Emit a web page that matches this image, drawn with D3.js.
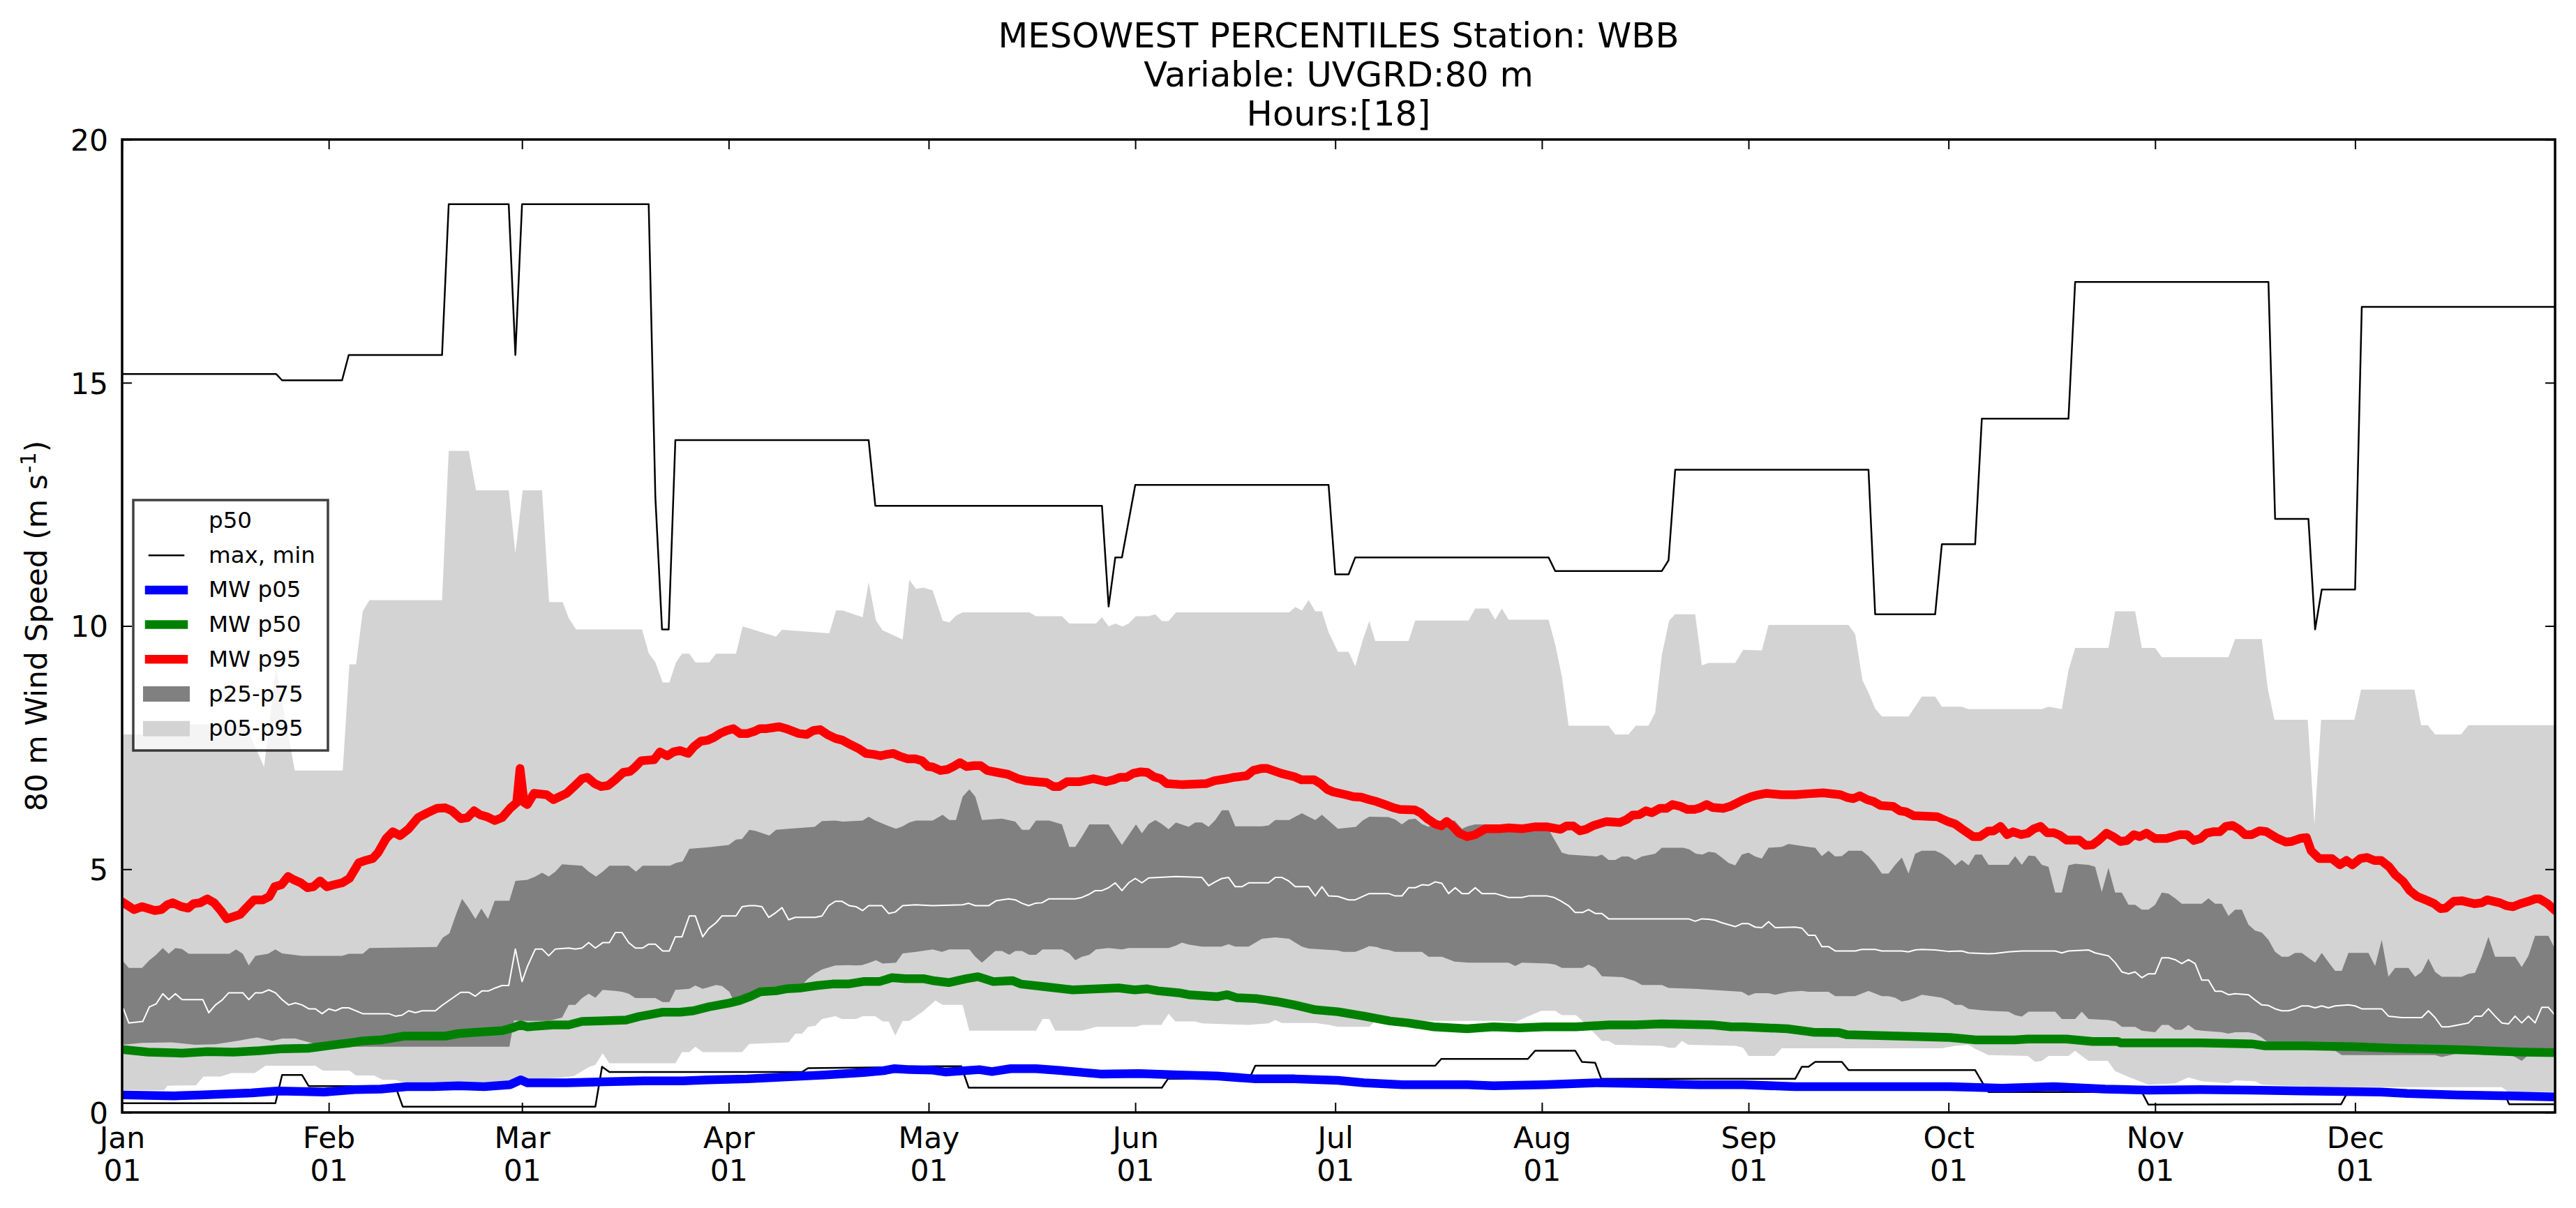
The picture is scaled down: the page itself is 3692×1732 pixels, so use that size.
<!DOCTYPE html>
<html>
<head>
<meta charset="utf-8">
<script src="https://cdn.jsdelivr.net/npm/d3@7"></script>
<style>
body { margin: 0; background: #fff; }
svg { display: block; }
text { font-family: "DejaVu Sans", sans-serif; fill: #000; }
</style>
</head>
<body>
<svg id="chart"></svg>
<script>
// every series is a list of [day of year (0 = Jan 01, leap year), value in m/s]
const p95Upper = [[0,7.77],[7.5,7.77],[8,7.98],[18.5,7.98],[21.3,7.1],[23.1,9.15],[25.9,7.03],[33.1,7.03],[34.1,9.21],[35.1,9.21],[36.1,10.3],[37.1,10.53],[48,10.53],[49,13.6],[52,13.6],[53.1,12.79],[58,12.79],[59,11.49],[60.1,12.79],[63,12.79],[64.06,10.49],[66.1,10.49],[67,10.16],[68.1,9.93],[78,9.93],[79,9.44],[80,9.25],[81.1,8.84],[82.1,8.84],[83.1,9.25],[84,9.43],[85.1,9.43],[86,9.25],[88.1,9.25],[89.1,9.43],[92.1,9.43],[93.1,9.99],[94.1,9.95],[98.1,9.78],[99,9.92],[106.1,9.85],[107.1,10.32],[108.1,10.32],[111.1,10.18],[112,10.9],[113.1,10.11],[114.1,9.91],[117.1,9.72],[118.1,10.95],[119.1,10.76],[120.2,10.79],[121.6,10.73],[123.1,10.11],[124.1,10.07],[125.1,10.21],[126.1,10.28],[136.1,10.28],[137.1,10.2],[141,10.2],[142.1,10.05],[146.1,10.05],[147,10.18],[148,9.99],[149,10.05],[150.1,9.99],[151,10.05],[152.1,10.2],[154,10.2],[155,10.24],[156,10.1],[157,10.1],[158.1,10.28],[175.1,10.28],[176,10.39],[177,10.32],[178,10.53],[179,10.3],[180,10.3],[181,9.87],[182.4,9.47],[184,9.47],[185,9.17],[186.1,9.7],[187.1,10.1],[188,9.69],[193,9.69],[194,10.11],[202,10.11],[203,10.36],[205,10.36],[206,10.13],[207,10.36],[208,10.13],[214,10.13],[215,9.62],[216,8.96],[217,7.95],[223,7.95],[224,7.77],[226,7.77],[227.1,7.95],[229,7.95],[230,8.22],[231,9.41],[232.1,10.11],[233,10.24],[236,10.24],[237,9.19],[238,9.24],[242,9.24],[243.2,9.51],[246,9.5],[247,10.02],[259,10.02],[260,9.83],[261.1,8.88],[262,8.63],[263,8.3],[264,8.14],[268,8.14],[269,8.34],[270,8.55],[272,8.55],[273,8.34],[276,8.34],[277,8.29],[288,8.29],[289,8.34],[291,8.29],[292,9.09],[293,9.55],[298,9.55],[299,10.3],[302,10.3],[303,9.55],[305,9.55],[306,9.36],[316,9.36],[317,9.73],[321,9.73],[321.9,8.71],[322.9,8.07],[327.9,8.07],[328.9,5.92],[329.9,8.07],[334.9,8.07],[335.9,8.69],[343.9,8.69],[344.9,7.96],[345.9,7.96],[347,7.77],[350.9,7.77],[352,7.96],[365,7.96]];

const p05Lower = [[0,0.46],[6.3,0.46],[6.8,0.55],[11.1,0.56],[12.2,0.74],[14.8,0.74],[16.4,0.81],[19.9,0.81],[21.5,0.96],[29,0.96],[30.1,0.86],[34.1,0.86],[35.1,0.76],[37.8,0.76],[39.1,0.67],[41,0.67],[42.1,0.62],[60,0.62],[62,0.68],[66,0.72],[67.8,0.75],[70.1,0.94],[71,0.98],[72.1,1.22],[73.1,1.01],[83,1.01],[84,1.24],[85.1,1.24],[86,1.35],[87.1,1.24],[93,1.24],[94.1,1.41],[100,1.44],[101,1.62],[102,1.62],[102.9,1.76],[104,1.78],[105,1.92],[107,1.98],[108,1.92],[110.1,1.92],[111.1,1.98],[113,1.98],[114.1,1.87],[115,1.87],[116,1.58],[117.1,1.88],[118.1,1.88],[119.1,1.98],[120.1,2.07],[121.6,2.25],[122,2.3],[123.1,2.21],[126.1,2.21],[127.1,1.68],[137.1,1.68],[138.1,1.92],[139.1,1.92],[140,1.68],[144,1.68],[145.1,1.72],[146.1,1.76],[152.1,1.76],[153,1.8],[155.9,1.8],[157,2.03],[158,1.87],[161,1.87],[162,1.83],[168.9,1.8],[172,1.83],[173,1.9],[174,1.84],[179,1.84],[181.1,1.8],[182.4,1.76],[187.1,1.76],[188,1.88],[206,1.88],[209,1.86],[211,1.98],[212.9,2.09],[215,2.09],[216,2.0],[218.1,2.0],[219.1,1.88],[222,1.47],[223,1.47],[224,1.39],[231,1.37],[232,1.33],[233,1.33],[234,1.47],[235,1.39],[242.1,1.37],[243.2,1.33],[244,1.16],[247.9,1.16],[249,1.32],[273,1.32],[275,1.37],[277,1.39],[278,1.31],[280,1.18],[285.9,1.16],[287,1.04],[288,1.06],[289,1.16],[292,1.16],[293,1.27],[294,1.16],[295,1.06],[297.9,1.06],[299,0.85],[301,0.73],[304,0.57],[308,0.6],[310,0.72],[312,0.64],[316,0.6],[317,0.66],[320,0.64],[321,0.57],[330,0.52],[357,0.52],[358,0.42],[365,0.42]];

const p75Upper = [[0,3.13],[1,2.97],[3,2.97],[4.1,3.13],[5.1,3.24],[6.1,3.38],[7,3.26],[8,3.38],[9,3.36],[10,3.26],[16.1,3.26],[17.1,3.35],[18.1,3.26],[19,3.02],[20,3.22],[21.9,3.26],[23,3.35],[24,3.27],[27,3.22],[33,3.22],[34,3.26],[36.1,3.26],[37.1,3.38],[47.2,3.4],[48.1,3.59],[49.1,3.68],[50.1,4.07],[51,4.39],[52,4.2],[53,3.98],[53.9,4.19],[54.9,3.98],[55.9,4.35],[58.1,4.35],[59,4.76],[60.8,4.78],[62,4.85],[63,4.93],[64,4.85],[65,4.95],[66,5.1],[69,5.07],[70,4.95],[71.1,4.85],[72.1,4.95],[73.1,5.07],[76,5.07],[77.1,4.95],[78.1,5.07],[82.2,5.07],[83.1,5.13],[84.1,5.16],[85.1,5.42],[88,5.45],[91,5.5],[92.1,5.61],[93,5.62],[94.1,5.81],[95,5.79],[97.1,5.69],[98.1,5.81],[100,5.83],[103.9,5.87],[105,5.99],[107,6.0],[108.1,5.98],[111.1,6.0],[112,6.08],[113,6.0],[115.1,5.88],[116.1,5.83],[117.1,5.88],[118.1,5.96],[119.1,6.0],[121.6,6.0],[123.1,6.12],[124.1,6.01],[125.1,6.01],[126.1,6.49],[127.1,6.64],[128,6.49],[129,6.01],[132,6.04],[134,5.98],[135,5.81],[136.1,5.81],[137.1,6.0],[139.1,6.0],[141,5.92],[142.1,5.46],[143,5.46],[144,5.67],[145.1,5.92],[148,5.92],[150,5.5],[152.1,5.92],[153,5.74],[154,5.93],[155,6.01],[156,5.93],[157,5.82],[158.1,5.96],[160,5.87],[161,5.96],[162,5.96],[163,5.87],[164,6.01],[165,6.21],[166,6.21],[167,5.88],[171,5.88],[172,5.9],[173,6.01],[175.1,6.01],[176,6.08],[177,6.15],[178,6.08],[179,6.01],[180,6.12],[181,6.0],[182.4,5.83],[185.1,5.87],[186.1,6.0],[187.1,6.08],[190,6.07],[191,6.02],[192,5.92],[193,6.02],[194,6.04],[195,5.93],[196,5.87],[197,5.98],[199.9,6.0],[201,5.83],[202,5.89],[203,5.92],[213.4,5.92],[214.2,5.77],[216,5.34],[217,5.3],[221.2,5.26],[222,5.3],[223,5.19],[224,5.19],[225,5.26],[226,5.26],[227,5.19],[228,5.26],[230,5.32],[231,5.44],[234.2,5.44],[235.1,5.41],[236.1,5.32],[237.1,5.3],[238,5.36],[239,5.34],[240,5.24],[241,5.13],[242,5.08],[243,5.3],[244,5.34],[245,5.26],[246,5.22],[247,5.44],[249,5.46],[250,5.52],[252.9,5.46],[254,5.44],[255,5.27],[256,5.38],[257,5.26],[258,5.27],[259,5.38],[261,5.38],[262,5.27],[263,5.11],[264,4.91],[265,4.91],[266,5.09],[267,5.24],[268,4.91],[269,5.32],[270,5.38],[272,5.38],[273,5.32],[274,5.22],[275,5.08],[276,5.19],[277,5.08],[278,5.3],[279,5.3],[280,5.09],[283,5.09],[284,5.27],[285,5.09],[286,5.28],[287,5.27],[288,5.09],[289,5.05],[290,4.52],[291,4.52],[292,5.08],[293,5.11],[295,5.09],[296,5.05],[297,4.53],[298,5.03],[299,4.52],[300,4.52],[301,4.27],[302,4.27],[303,4.17],[304,4.17],[305,4.27],[306,4.52],[307,4.5],[308,4.4],[309,4.29],[312,4.29],[313,4.4],[314,4.29],[315,4.29],[316,4.04],[317,4.17],[318,4.17],[319,3.86],[320,3.74],[321,3.7],[322,3.55],[323,3.3],[324,3.2],[325,3.2],[326,3.28],[327,3.28],[328,3.18],[329,3.08],[330,3.28],[331,3.09],[332,2.91],[333,2.91],[334,3.28],[337,3.28],[338,3.01],[339,3.55],[340,2.79],[341,2.97],[343,2.97],[344,2.79],[345,2.89],[346,3.16],[347,2.89],[348,2.79],[351,2.79],[352,2.85],[353,2.87],[354,3.2],[355,3.61],[356,3.2],[359,3.2],[360,2.99],[361,3.22],[362,3.63],[364,3.63],[365,3.36]];

const p25Lower = [[0,1.39],[3,1.43],[7.4,1.44],[9,1.42],[11,1.39],[14,1.4],[17.7,1.48],[19.2,1.52],[20.3,1.54],[22.5,1.47],[24,1.52],[26,1.52],[28.7,1.42],[34.6,1.35],[58.1,1.35],[58.8,1.89],[60.8,1.88],[64,1.88],[66,1.95],[67,2.21],[68,2.21],[69,2.35],[70,2.44],[71,2.36],[72.1,2.52],[74,2.5],[75,2.48],[76,2.44],[77,2.35],[80,2.35],[81.1,2.27],[82.1,2.27],[83,2.52],[85.1,2.54],[86,2.61],[87.1,2.54],[89.1,2.62],[90,2.6],[91.1,2.48],[92.1,2.2],[94,2.4],[96,2.45],[99,2.55],[102,2.62],[102.9,2.75],[104,2.86],[105,2.94],[107,3.02],[109.1,3.03],[110,3.02],[111,3.03],[112,3.07],[113.1,3.13],[114.1,3.06],[116.1,3.08],[117.1,3.27],[119.1,3.3],[121.6,3.35],[123,3.3],[124.1,3.35],[127.1,3.35],[128,3.2],[129,3.08],[130,3.2],[131,3.32],[132,3.32],[133.1,3.24],[134,3.32],[135,3.32],[136.1,3.24],[137.1,3.24],[138.1,3.35],[141,3.35],[142.1,3.27],[143,3.13],[144,3.2],[145.1,3.24],[146.1,3.35],[148,3.38],[150,3.35],[151,3.38],[157,3.38],[158.1,3.43],[159,3.49],[160,3.45],[162,3.41],[164.9,3.41],[166,3.46],[167,3.41],[169,3.41],[171,3.57],[173,3.6],[175.1,3.57],[176,3.49],[177,3.41],[178,3.37],[182.4,3.33],[183.2,3.3],[185,3.3],[186.1,3.36],[187.1,3.42],[188.2,3.4],[189.1,3.36],[190,3.34],[191,3.3],[195,3.3],[196,3.2],[198,3.2],[199.9,3.1],[202,3.08],[208,3.08],[209,3.01],[210,3.08],[214,3.06],[215,3.04],[216,2.97],[219.1,2.97],[220,3.04],[221,2.97],[222,2.8],[225.1,2.78],[227,2.7],[228,2.62],[231,2.62],[232,2.56],[236,2.54],[243,2.48],[244,2.4],[245,2.45],[247,2.45],[248,2.42],[250,2.48],[252,2.5],[253,2.48],[256,2.48],[257,2.39],[260,2.39],[262,2.5],[264,2.39],[265,2.39],[266,2.36],[267,2.28],[268,2.31],[269,2.36],[270,2.42],[272,2.38],[273,2.36],[274,2.3],[275,2.21],[276,2.21],[277,2.13],[279,2.1],[280,2.09],[283,2.07],[284,2.0],[285,1.97],[286,2.07],[290,2.07],[291,1.92],[293,1.92],[294,2.07],[295,1.92],[298,1.9],[299,1.87],[300,1.76],[302,1.76],[303,1.68],[305,1.65],[306,1.8],[307,1.8],[308,1.7],[309,1.7],[310,1.8],[311,1.7],[312,1.68],[315,1.65],[316,1.62],[317,1.65],[319,1.65],[320,1.62],[321,1.54],[322,1.43],[328,1.31],[332,1.27],[333,1.18],[347,1.18],[348,1.14],[350,1.2],[358,1.2],[359,1.14],[360,1.06],[361,1.18],[365,1.18]];

const p50Line = [[0.2,2.13],[1,1.84],[3.1,1.87],[4.1,2.17],[5.1,2.23],[6.1,2.44],[7,2.32],[8,2.44],[9,2.32],[12.1,2.32],[13,2.05],[14,2.21],[15,2.31],[16,2.46],[18.1,2.46],[19,2.32],[20,2.46],[21,2.46],[22,2.52],[23,2.46],[24,2.32],[25,2.21],[26,2.25],[27,2.21],[28,2.13],[29,2.13],[30,2.03],[31,2.13],[32,2.09],[33,2.15],[34,2.15],[36.1,2.03],[40,2.03],[41,1.98],[42,2.0],[43,2.09],[44,2.05],[45,2.09],[47,2.09],[48,2.2],[50.8,2.47],[52,2.47],[53,2.39],[54,2.5],[55,2.5],[56,2.56],[57,2.61],[58,2.61],[59,3.36],[60,2.69],[60.8,3.0],[62,3.36],[63,3.36],[64,3.22],[65,3.36],[67,3.38],[68,3.36],[69,3.38],[70,3.49],[71,3.38],[72.1,3.49],[73.1,3.49],[74,3.7],[75,3.7],[76,3.49],[77,3.38],[78.1,3.38],[79,3.46],[80,3.46],[81.1,3.32],[82.1,3.32],[83,3.61],[84,3.61],[85.1,4.04],[86,4.04],[87.1,3.61],[88,3.78],[89.1,3.9],[90,4.04],[92.1,4.04],[93,4.23],[94.1,4.25],[95,4.25],[96,4.23],[97,4.01],[98.1,4.11],[99,4.21],[100,3.96],[101,4.01],[104,4.01],[105,4.04],[106,4.25],[107,4.34],[108,4.34],[109.1,4.25],[110.1,4.23],[111.1,4.15],[112,4.25],[114,4.25],[115,4.09],[116,4.12],[117.1,4.25],[119,4.27],[121.6,4.25],[126.1,4.27],[127,4.3],[128,4.25],[130,4.25],[131.1,4.35],[133,4.39],[134,4.37],[135,4.3],[136,4.25],[137,4.3],[138,4.31],[139,4.39],[143,4.39],[144,4.42],[145,4.48],[146,4.56],[147,4.56],[148,4.62],[149,4.72],[150,4.56],[151,4.72],[152,4.81],[153,4.72],[154,4.82],[158.1,4.85],[162,4.83],[163,4.66],[164,4.74],[165,4.81],[166,4.83],[167,4.64],[168,4.64],[169,4.72],[172,4.72],[173,4.83],[174,4.83],[175,4.76],[176,4.64],[178,4.64],[179,4.45],[180,4.64],[181,4.45],[182.4,4.44],[184,4.37],[185,4.37],[186.1,4.44],[187.1,4.5],[190,4.5],[191,4.45],[192,4.45],[193,4.62],[194,4.62],[195,4.68],[196,4.67],[197,4.74],[198,4.71],[199,4.5],[200,4.62],[201,4.5],[202,4.5],[203,4.62],[204,4.5],[206,4.5],[208,4.42],[210,4.42],[211,4.45],[213.8,4.45],[214.8,4.42],[215.8,4.35],[217,4.25],[218,4.11],[219.1,4.11],[220,4.17],[221,4.09],[222,4.09],[223,3.98],[235,3.98],[236,3.93],[237,3.98],[238,3.97],[239,3.95],[240,3.9],[241,3.86],[242,3.82],[243,3.88],[244,3.88],[245,3.81],[246,3.8],[247,3.92],[248,3.8],[251,3.81],[252,3.79],[253,3.64],[254,3.64],[255,3.41],[256,3.41],[257,3.32],[260,3.32],[261,3.35],[263,3.35],[264,3.32],[267,3.32],[268,3.3],[269,3.34],[270,3.35],[272,3.34],[274,3.31],[276,3.32],[277,3.28],[280,3.26],[281,3.27],[283,3.3],[285,3.32],[290,3.32],[291,3.28],[292,3.32],[295,3.34],[296,3.28],[298,3.22],[299,3.08],[300,2.89],[301,2.85],[302,2.89],[303,2.77],[304,2.85],[305,2.85],[306,3.18],[307,3.18],[308,3.14],[309,3.06],[310,3.14],[311,3.06],[312,2.72],[313,2.72],[314,2.49],[315,2.49],[316,2.42],[317,2.44],[319,2.42],[320,2.31],[321,2.21],[322,2.2],[323,2.13],[324,2.09],[325,2.09],[326,2.13],[327,2.19],[328,2.19],[329,2.15],[330,2.19],[331,2.15],[332,2.19],[334,2.21],[335,2.19],[336,2.13],[339,2.13],[340,1.98],[342,1.95],[345,1.95],[346,2.09],[347,1.95],[348,1.76],[349,1.76],[352,1.84],[353,1.98],[354,1.98],[355,2.13],[356,1.98],[357,1.84],[358,1.82],[359,1.98],[360,1.84],[361,1.98],[362,1.84],[363,2.16],[364,2.16],[365,2.0]];

const maxLine = [[0,15.18],[23.1,15.18],[24,15.05],[33,15.05],[34,15.57],[48,15.57],[49,18.67],[58,18.67],[59,15.57],[60,18.67],[79,18.67],[80,12.65],[81,9.93],[82,9.93],[83,13.82],[112,13.82],[113,12.47],[147,12.47],[148,10.4],[149,11.41],[150,11.41],[152,12.9],[181,12.9],[182,11.06],[184,11.06],[185,11.41],[214,11.41],[215,11.13],[231,11.13],[232,11.35],[233,13.21],[262,13.21],[263,10.24],[272,10.24],[273,11.68],[278,11.68],[279,14.26],[292,14.26],[293,17.07],[322,17.07],[323,12.2],[328,12.2],[329,9.93],[330,10.75],[335,10.75],[336,16.56],[365,16.56]];

const minLine = [[0,0.19],[23,0.19],[24,0.77],[27,0.77],[28,0.54],[41,0.54],[42.1,0.12],[71,0.12],[72,0.94],[73.1,0.83],[102,0.83],[102.9,0.91],[116.7,0.93],[121.6,0.95],[125.9,0.95],[127,0.51],[156,0.51],[156.9,0.69],[169.1,0.69],[170,0.96],[197,0.96],[197.9,1.1],[210.9,1.1],[212,1.27],[218,1.27],[219,1.04],[221,1.02],[221.9,0.69],[251,0.69],[252,0.94],[253,0.94],[254,1.04],[258,1.04],[259,0.87],[278,0.87],[279.1,0.61],[280,0.42],[303,0.42],[304,0.16],[332.9,0.17],[333.9,0.42],[357.4,0.4],[358.1,0.17],[365,0.17]];

const mwP05 = [[0.2,0.36],[7.8,0.34],[11.7,0.36],[15.5,0.38],[19.4,0.4],[23.3,0.44],[27.2,0.43],[30.3,0.42],[34.9,0.47],[38.8,0.48],[42.7,0.53],[46.6,0.53],[50.5,0.55],[54.3,0.53],[58.2,0.57],[59.8,0.67],[60.8,0.61],[66.7,0.61],[72.5,0.63],[78.3,0.65],[84.1,0.65],[88,0.67],[93.8,0.69],[99.6,0.73],[105.4,0.77],[111.2,0.82],[114.3,0.86],[115.9,0.9],[118.2,0.88],[121.6,0.87],[123.6,0.83],[128.6,0.88],[130.5,0.84],[133.3,0.9],[137.1,0.9],[141,0.86],[146.8,0.79],[152.6,0.8],[158.5,0.77],[164.3,0.75],[170.1,0.69],[175.9,0.69],[182.4,0.66],[186.3,0.61],[192.1,0.57],[201.8,0.57],[205.7,0.55],[213.4,0.57],[221.2,0.61],[228.9,0.59],[236.7,0.57],[243.2,0.57],[251,0.53],[274.2,0.53],[282,0.5],[289.8,0.53],[297.5,0.48],[304,0.46],[311.8,0.47],[319.5,0.46],[327.3,0.44],[338.9,0.42],[342.8,0.39],[350.5,0.36],[358.3,0.34],[364.8,0.32]];

const mwP50 = [[0.2,1.29],[3.9,1.24],[9,1.22],[12.8,1.25],[16.7,1.24],[20.6,1.27],[24.1,1.31],[27.9,1.32],[31.8,1.39],[34.2,1.43],[36.1,1.47],[38.8,1.49],[42.3,1.57],[48.5,1.57],[50.4,1.62],[53.2,1.65],[57,1.68],[58.6,1.74],[59.8,1.8],[60.8,1.76],[64.7,1.8],[67,1.8],[69,1.87],[71.7,1.88],[75.6,1.9],[77.5,1.97],[79.5,2.02],[81,2.06],[83.7,2.06],[85.7,2.09],[88,2.17],[91.1,2.25],[92.6,2.3],[94.2,2.38],[95.7,2.48],[98.1,2.5],[99.6,2.54],[101.9,2.56],[104.3,2.61],[106.6,2.64],[108.9,2.64],[111.2,2.69],[113.6,2.69],[115.5,2.77],[117.5,2.75],[120.2,2.75],[121.6,2.71],[124,2.67],[126.7,2.75],[128.4,2.79],[130.7,2.69],[133.6,2.71],[134.8,2.64],[138.7,2.58],[142.6,2.52],[149.5,2.56],[151.9,2.52],[153.8,2.54],[155.4,2.5],[158.5,2.46],[160,2.42],[164.3,2.38],[165.8,2.42],[167.2,2.36],[170.1,2.34],[173.2,2.28],[175.9,2.21],[179,2.11],[182.4,2.07],[186.3,1.98],[190.2,1.88],[192.9,1.84],[196.8,1.76],[201.8,1.72],[205.7,1.76],[209.6,1.74],[213.4,1.76],[218.1,1.76],[223.1,1.8],[227,1.8],[230.9,1.82],[238.6,1.8],[241.4,1.76],[243.2,1.76],[249.8,1.72],[253.7,1.65],[257.6,1.64],[258.7,1.6],[266.5,1.57],[274.2,1.54],[278.1,1.49],[283.9,1.49],[285.9,1.51],[291.7,1.51],[295.6,1.46],[299.4,1.46],[299.8,1.43],[311.8,1.43],[319.5,1.41],[321.5,1.37],[327.3,1.37],[331.2,1.36],[335,1.35],[340.9,1.32],[344.7,1.31],[350.5,1.29],[354.4,1.27],[360.2,1.24],[364.8,1.23]];

const mwP95 = [[0.2,4.31],[1.8,4.17],[3,4.23],[4.9,4.15],[5.9,4.17],[6.8,4.27],[7.6,4.31],[8.9,4.23],[9.9,4.2],[10.7,4.29],[11.7,4.31],[12.8,4.39],[13.8,4.31],[14.8,4.15],[15.7,3.98],[17.7,4.07],[18.8,4.23],[19.8,4.37],[21.1,4.37],[22.1,4.44],[22.9,4.64],[23.9,4.68],[24.9,4.85],[25.8,4.78],[26.8,4.72],[27.8,4.62],[28.7,4.64],[29.7,4.76],[30.7,4.64],[31.8,4.68],[33,4.72],[34.1,4.81],[35.5,5.13],[36.5,5.18],[37.6,5.22],[38.4,5.34],[39.6,5.63],[40.6,5.77],[41.7,5.69],[43,5.83],[44.4,6.06],[45.8,6.16],[47.2,6.25],[48.5,6.26],[49.5,6.2],[50.8,6.04],[51.8,6.06],[52.8,6.2],[53.7,6.12],[54.7,6.08],[55.9,6.0],[57,6.06],[58.2,6.25],[59.2,6.37],[59.7,7.07],[60.3,6.37],[60.8,6.33],[61.8,6.56],[63.7,6.53],[64.7,6.43],[66.7,6.56],[67.8,6.7],[69,6.86],[69.8,6.89],[70.9,6.76],[71.9,6.7],[72.9,6.72],[74,6.84],[75.2,6.99],[76.2,7.01],[76.9,7.09],[77.9,7.23],[79.8,7.25],[80.7,7.41],[81.8,7.33],[82.7,7.41],[83.7,7.44],[84.9,7.38],[85.8,7.52],[86.8,7.63],[87.8,7.65],[88.8,7.71],[89.7,7.79],[90.7,7.85],[91.7,7.89],[92.7,7.79],[93.8,7.79],[94.8,7.83],[95.7,7.89],[96.7,7.89],[97.7,7.91],[98.6,7.93],[99.6,7.89],[101.5,7.79],[102.7,7.77],[103.7,7.85],[104.7,7.87],[105.8,7.77],[107,7.69],[108.1,7.65],[109.3,7.56],[110.5,7.48],[111.6,7.38],[112.8,7.36],[113.8,7.33],[114.7,7.36],[115.7,7.38],[116.7,7.32],[117.8,7.27],[119,7.27],[120,7.23],[120.9,7.11],[121.6,7.1],[122.8,7.03],[123.8,7.05],[124.7,7.11],[125.7,7.19],[126.7,7.11],[127.8,7.13],[128.8,7.13],[129.8,7.03],[130.9,7.0],[132.9,6.95],[134.4,6.86],[135.6,6.82],[137.1,6.8],[138.7,6.78],[139.7,6.7],[140.6,6.7],[141.8,6.8],[143.7,6.8],[145.7,6.86],[147.6,6.8],[148.8,6.84],[149.7,6.89],[150.7,6.89],[151.7,6.97],[152.8,7.0],[153.8,6.99],[154.8,6.9],[155.8,6.86],[156.7,6.76],[158.9,6.74],[162.7,6.76],[163.9,6.82],[165.8,6.86],[166.8,6.89],[168.7,6.92],[169.7,7.03],[170.9,7.07],[171.8,7.07],[173.9,6.97],[175.9,6.9],[176.9,6.84],[178.8,6.84],[179.8,6.76],[180.8,6.64],[181.7,6.59],[183.6,6.53],[184.7,6.49],[185.9,6.48],[187.1,6.43],[188.2,6.39],[189.4,6.33],[190.6,6.27],[191.7,6.23],[193.9,6.22],[194.8,6.16],[195.8,6.04],[197,5.93],[197.9,5.89],[198.7,5.98],[199.5,5.9],[200.6,5.74],[201.8,5.67],[203,5.71],[204.5,5.83],[206.5,5.83],[208,5.85],[210,5.83],[211.9,5.87],[213.8,5.87],[215.8,5.82],[216.7,5.89],[217.7,5.89],[218.7,5.79],[219.6,5.82],[220.8,5.9],[222.7,5.98],[224.7,5.96],[225.7,6.02],[226.6,6.11],[227.6,6.12],[228.6,6.2],[229.5,6.16],[230.7,6.25],[231.7,6.25],[232.6,6.33],[233.8,6.29],[234.8,6.23],[235.9,6.23],[236.7,6.26],[237.7,6.33],[238.6,6.27],[240.2,6.25],[241.2,6.29],[242.1,6.35],[243.1,6.42],[244.4,6.49],[245.5,6.53],[246.7,6.56],[249,6.53],[251,6.53],[252.9,6.55],[255.2,6.57],[257.8,6.53],[258.7,6.48],[259.7,6.45],[260.7,6.51],[261.8,6.43],[262.8,6.39],[263.8,6.31],[265.7,6.29],[266.7,6.2],[267.6,6.18],[268.8,6.1],[272.3,6.08],[273.9,5.98],[275,5.93],[276,5.83],[277.7,5.67],[278.7,5.67],[279.9,5.78],[280.8,5.79],[281.8,5.88],[282.8,5.71],[283.7,5.77],[284.9,5.71],[285.9,5.74],[286.8,5.83],[287.8,5.88],[288.8,5.75],[289.8,5.75],[290.7,5.7],[291.7,5.6],[293.6,5.6],[294.6,5.49],[295.6,5.5],[296.5,5.59],[297.7,5.74],[298.7,5.67],[299.8,5.57],[300.8,5.59],[301.8,5.71],[302.7,5.67],[303.7,5.74],[305,5.63],[306.7,5.63],[308.7,5.71],[309.8,5.71],[310.8,5.59],[311.8,5.63],[312.7,5.74],[313.7,5.77],[314.7,5.77],[315.6,5.88],[316.6,5.9],[317.6,5.82],[318.5,5.71],[319.5,5.71],[320.7,5.79],[321.7,5.77],[323.4,5.63],[324.6,5.56],[325.5,5.57],[326.7,5.63],[327.7,5.65],[328.4,5.38],[329.6,5.22],[331.5,5.22],[332.7,5.09],[333.7,5.18],[334.6,5.09],[335.8,5.22],[336.8,5.24],[337.9,5.18],[338.9,5.18],[340.1,5.05],[341,4.89],[342.2,4.75],[343.2,4.56],[344.3,4.44],[345.9,4.35],[346.9,4.29],[347.8,4.19],[348.6,4.2],[349.8,4.34],[351.1,4.35],[352.9,4.29],[354,4.31],[354.8,4.37],[356.7,4.31],[357.7,4.25],[358.7,4.23],[359.8,4.29],[361,4.34],[362,4.39],[362.7,4.39],[363.9,4.29],[364.7,4.19]];

const titleLines = ["MESOWEST PERCENTILES Station: WBB", "Variable: UVGRD:80 m", "Hours:[18]"];
const yTicks = [0, 5, 10, 15, 20];
const legendLabels = ["p50", "max, min", "MW p05", "MW p50", "MW p95", "p25-p75", "p05-p95"];

const W = 3692, H = 1732;
const plot = { left: 175, right: 3662, top: 200, bottom: 1595 };
const svg = d3.select("#chart").attr("width", W).attr("height", H);

const year0 = Date.UTC(2016, 0, 1);
const toDate = d => new Date(year0 + d * 864e5);
const x = d3.scaleUtc().domain([toDate(0), toDate(365)]).range([plot.left, plot.right]);
const y = d3.scaleLinear().domain([0, 20]).range([plot.bottom, plot.top]);

svg.append("defs").append("clipPath").attr("id", "clip")
  .append("rect")
  .attr("x", plot.left).attr("y", plot.top)
  .attr("width", plot.right - plot.left).attr("height", plot.bottom - plot.top);

const line = d3.line().x(p => x(toDate(p[0]))).y(p => y(p[1]));
const g = svg.append("g").attr("clip-path", "url(#clip)");

function band(upper, lower, color) {
  g.append("path")
    .attr("d", line(upper.concat(lower.slice().reverse())) + "Z")
    .attr("fill", color);
}
function series(data, color, width) {
  g.append("path")
    .attr("d", line(data))
    .attr("fill", "none")
    .attr("stroke", color)
    .attr("stroke-width", width)
    .attr("stroke-linejoin", "round")
    .attr("stroke-linecap", "square");
}

band(p95Upper, p05Lower, "#d3d3d3");
band(p75Upper, p25Lower, "#808080");
series(p50Line, "#ffffff", 2);
series(maxLine, "#000000", 2.5);
series(minLine, "#000000", 2.5);
series(mwP05, "#0000ff", 12.5);
series(mwP50, "#008000", 12.5);
series(mwP95, "#ff0000", 12.5);

// axes: classic matplotlib style, ticks pointing inward on all four sides
const months = d3.utcMonth.range(toDate(0), toDate(365));
const tickLen = 14;

const xb = svg.append("g").attr("transform", `translate(0,${plot.bottom})`)
  .call(d3.axisBottom(x).tickValues(months).tickSize(-tickLen).tickFormat(""));
svg.append("g").attr("transform", `translate(0,${plot.top})`)
  .call(d3.axisTop(x).tickValues(months).tickSize(-tickLen).tickFormat(""));
const yl = svg.append("g").attr("transform", `translate(${plot.left},0)`)
  .call(d3.axisLeft(y).tickValues(yTicks).tickSize(-tickLen).tickPadding(20).tickFormat(d3.format("d")));
svg.append("g").attr("transform", `translate(${plot.right},0)`)
  .call(d3.axisRight(y).tickValues(yTicks).tickSize(-tickLen).tickFormat(""));

svg.selectAll(".domain").remove();
svg.selectAll(".tick line").attr("stroke", "#000").attr("stroke-width", 2);

yl.selectAll(".tick text")
  .attr("font-size", 42.5).attr("font-family", "DejaVu Sans").attr("fill", "#000")
  .attr("dy", "0.36em");

xb.selectAll(".tick").each(function (d) {
  const t = d3.select(this).append("text")
    .attr("text-anchor", "middle").attr("font-size", 42.5).attr("fill", "#000");
  t.append("tspan").attr("x", 0).attr("y", 51).text(d3.utcFormat("%b")(d));
  t.append("tspan").attr("x", 0).attr("y", 98).text(d3.utcFormat("%d")(d));
});

svg.append("rect")
  .attr("x", plot.left).attr("y", plot.top)
  .attr("width", plot.right - plot.left).attr("height", plot.bottom - plot.top)
  .attr("fill", "none").attr("stroke", "#000").attr("stroke-width", 3.5);

// y label, with the unit exponent raised
const ylab = svg.append("text")
  .attr("transform", `translate(67,${(plot.top + plot.bottom) / 2}) rotate(-90)`)
  .attr("text-anchor", "middle").attr("font-size", 42.5);
ylab.append("tspan").text("80 m Wind Speed (m s");
ylab.append("tspan").attr("font-size", 30).attr("dx", 2).attr("dy", -16).text("-1");
ylab.append("tspan").attr("dy", 16).text(")");

// title
svg.append("g").selectAll("text").data(titleLines).join("text")
  .attr("x", (plot.left + plot.right) / 2)
  .attr("y", (d, i) => 68 + i * 56)
  .attr("text-anchor", "middle")
  .attr("font-size", 49.6)
  .text(d => d);

// legend
const legendStyle = [
  { kind: "line", color: "#ffffff", width: 2 },
  { kind: "line", color: "#000000", width: 2.5 },
  { kind: "line", color: "#0000ff", width: 12.5 },
  { kind: "line", color: "#008000", width: 12.5 },
  { kind: "line", color: "#ff0000", width: 12.5 },
  { kind: "patch", color: "#808080" },
  { kind: "patch", color: "#d3d3d3" }
];
const lg = svg.append("g");
lg.append("rect")
  .attr("x", 191).attr("y", 717).attr("width", 279).attr("height", 359)
  .attr("fill", "#fff").attr("fill-opacity", 0.75)
  .attr("stroke", "#000").attr("stroke-opacity", 0.75).attr("stroke-width", 3.5);
legendLabels.forEach((label, i) => {
  const base = 757 + i * 49.7;
  const mid = base - 10.5;
  const s = legendStyle[i];
  if (s.kind === "line") {
    lg.append("line").attr("x1", 214).attr("x2", 263).attr("y1", mid).attr("y2", mid)
      .attr("stroke", s.color).attr("stroke-width", s.width).attr("stroke-linecap", "square");
  } else {
    lg.append("rect").attr("x", 205).attr("y", mid - 11).attr("width", 67).attr("height", 22)
      .attr("fill", s.color);
  }
  lg.append("text").attr("x", 299).attr("y", base).attr("font-size", 32.5).text(label);
});
</script>
</body>
</html>
